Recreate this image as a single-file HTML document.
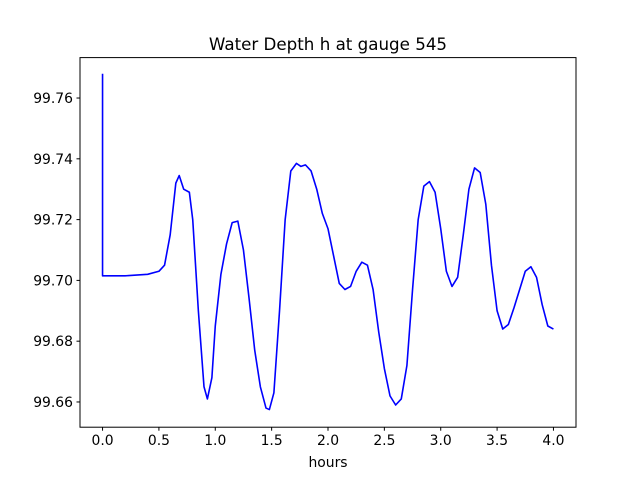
<!DOCTYPE html>
<html><head><meta charset="utf-8">
<style>
html,body{margin:0;padding:0;background:#fff;}
svg text{font-family:"DejaVu Sans","Liberation Sans",sans-serif;fill:#000;}
</style></head>
<body>
<svg id="chart" width="640" height="480" xmlns="http://www.w3.org/2000/svg">
<rect x="0" y="0" width="640" height="480" fill="#fff"/>
<text x="328" y="50" text-anchor="middle" font-size="16.7">Water Depth h at gauge 545</text>
<g id="plot"></g>
<rect x="80" y="57.6" width="496" height="369.6" fill="none" stroke="#000" stroke-width="1"/>
<text x="328" y="467" text-anchor="middle" font-size="13.9">hours</text>
</svg>
<script>
const hours = [0,0,0.2,0.4,0.5,0.55,0.6,0.65,0.68,0.72,0.77,0.8,0.85,0.9,0.93,0.97,1.0,1.05,1.1,1.15,1.2,1.25,1.3,1.35,1.4,1.45,1.48,1.52,1.57,1.62,1.67,1.72,1.76,1.8,1.85,1.9,1.95,2.0,2.05,2.1,2.15,2.2,2.25,2.3,2.35,2.4,2.45,2.5,2.55,2.6,2.65,2.7,2.75,2.8,2.85,2.9,2.95,3.0,3.05,3.1,3.15,3.2,3.25,3.3,3.35,3.4,3.45,3.5,3.55,3.6,3.65,3.7,3.75,3.8,3.85,3.9,3.95,4.0];
const depth = [99.768,99.7015,99.7015,99.702,99.703,99.705,99.715,99.732,99.7345,99.730,99.729,99.72,99.69,99.665,99.661,99.668,99.685,99.702,99.712,99.719,99.7195,99.71,99.694,99.677,99.665,99.658,99.6575,99.663,99.69,99.72,99.736,99.7385,99.7375,99.738,99.736,99.73,99.722,99.717,99.708,99.699,99.697,99.698,99.703,99.706,99.705,99.697,99.683,99.671,99.662,99.659,99.661,99.672,99.697,99.72,99.731,99.7325,99.729,99.717,99.703,99.698,99.701,99.715,99.73,99.737,99.7355,99.725,99.705,99.69,99.684,99.6855,99.691,99.697,99.703,99.7045,99.701,99.692,99.685,99.684];
const xTicks = [0,0.5,1,1.5,2,2.5,3,3.5,4];
const xTickLabels = ["0.0","0.5","1.0","1.5","2.0","2.5","3.0","3.5","4.0"];
const yTicks = [99.66,99.68,99.70,99.72,99.74,99.76];
const yTickLabels = ["99.66","99.68","99.70","99.72","99.74","99.76"];

const L=80,R=576,T=57.6,B=427.2;
const xMin=-0.2,xMax=4.2,yMin=99.6517,yMax=99.7733;
const sx=v=>L+(v-xMin)/(xMax-xMin)*(R-L);
const sy=v=>B-(v-yMin)/(yMax-yMin)*(B-T);
const NS="http://www.w3.org/2000/svg";
const g=document.getElementById('plot');
function mk(tag,attrs){const e=document.createElementNS(NS,tag);for(const k in attrs)e.setAttribute(k,attrs[k]);g.appendChild(e);return e;}
xTicks.forEach((t,i)=>{
  const l=mk('line',{x1:sx(t),x2:sx(t),y1:B,y2:B+3.5,stroke:'#000','stroke-width':1});
  
  
  const tx=mk('text',{x:sx(t),y:B+18,'text-anchor':'middle','font-size':13.9});
  tx.textContent=xTickLabels[i];
  
  
});
yTicks.forEach((t,i)=>{
  const l=mk('line',{x1:L-3.5,x2:L,y1:sy(t),y2:sy(t),stroke:'#000','stroke-width':1});
  
  
  const tx=mk('text',{x:L-7,y:sy(t)+5,'text-anchor':'end','font-size':13.9});
  tx.textContent=yTickLabels[i];
  
  
});
const pts=hours.map((h,i)=>sx(h).toFixed(2)+','+sy(depth[i]).toFixed(2)).join(' ');
const line=mk('polyline',{points:pts,fill:'none',stroke:'#0000ff','stroke-width':1.6,'stroke-linejoin':'round'});


</script>
</body></html>
